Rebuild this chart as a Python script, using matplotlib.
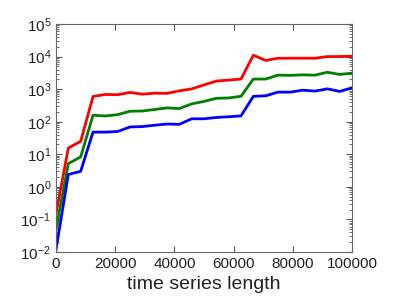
import numpy as np
import matplotlib
matplotlib.use("Agg")
import matplotlib.pyplot as plt

lengths = np.linspace(0, 100000, 25)
red = [0.15, 15.6, 25, 596, 687, 675, 794, 700, 753, 740, 887, 1020, 1350,
       1770, 1900, 2040, 11000, 7600, 8900, 8900, 8900, 8900, 10000, 10000, 10300]
green = [0.05, 5.2, 8.3, 158, 150, 165, 210, 213, 237, 266, 253, 353, 420,
         524, 537, 604, 2040, 2040, 2690, 2650, 2750, 2690, 3300, 2820, 3100]
blue = [0.012, 2.4, 3.0, 48, 48, 50, 69, 71, 78, 85, 83, 123, 123,
        135, 142, 151, 600, 625, 810, 810, 930, 870, 1020, 850, 1100]

plt.rcParams['font.family'] = ['Liberation Sans', 'DejaVu Sans']
fig = plt.figure(figsize=(4.07, 3.05), dpi=100)
ax = fig.add_axes([56/407, 53/305, 296/407, 228/305])
ax.plot(lengths, red, color='red', lw=2)
ax.plot(lengths, green, color='green', lw=2)
ax.plot(lengths, blue, color='blue', lw=2)
ax.set_yscale('log')
ax.set_xlim(0, 100000)
ax.set_ylim(1e-2, 1e5)
ax.set_xticks([0, 20000, 40000, 60000, 80000, 100000])
ax.set_xticklabels(['0', '20000', '40000', '60000', '80000', '100000'])
ax.tick_params(which='both', direction='in', top=True, right=True, labelsize=11, colors='#555555', labelcolor='#222222')
ax.tick_params(which='major', length=4)
ax.tick_params(which='minor', length=2)
for s in ax.spines.values():
    s.set_color('#666666')
ax.set_xlabel('time series length', fontsize=14, color='#222222')
fig.savefig('out.png', dpi=100)
